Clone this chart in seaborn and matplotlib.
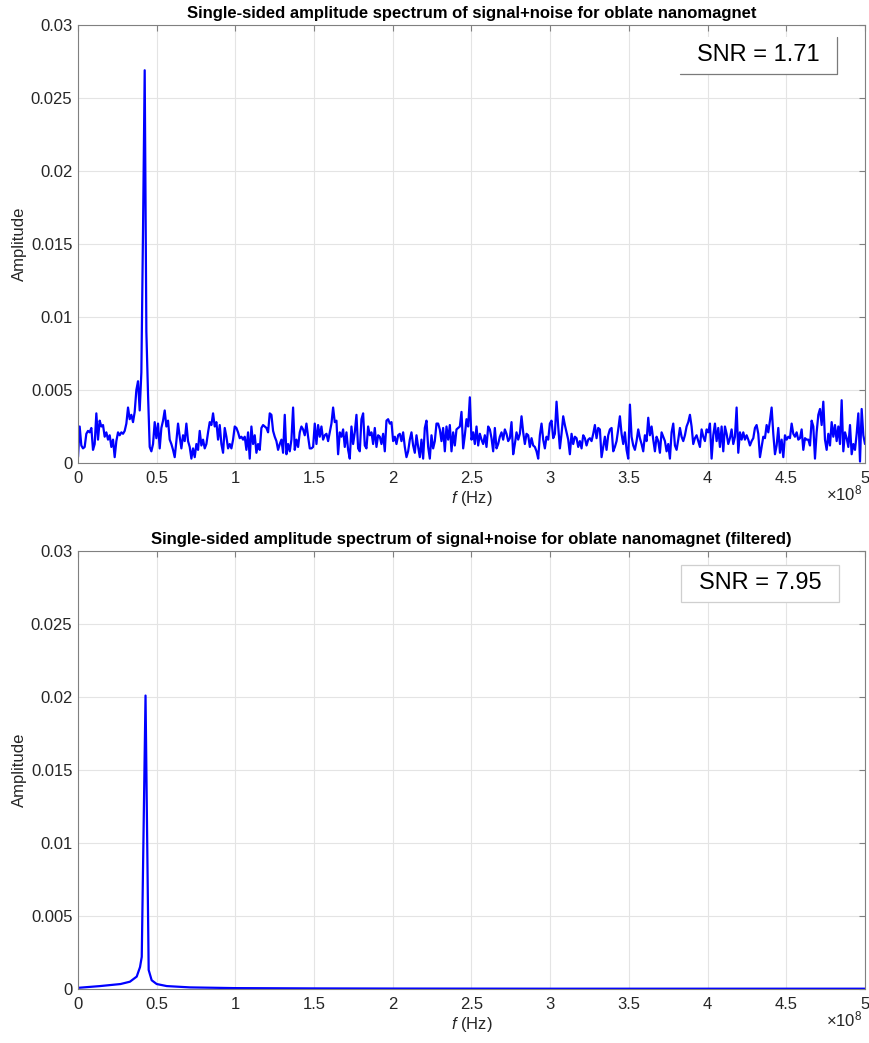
import numpy as np
import matplotlib
matplotlib.use("Agg")
import matplotlib.pyplot as plt
from matplotlib.patches import Rectangle
from matplotlib.lines import Line2D
import seaborn as sns

# ---------------------------------------------------------------
# Data
# ---------------------------------------------------------------
# Raw spectrum (signal + noise), amplitude in units of 1e-3,
# sampled on a uniform grid from 0 to 5e8 Hz (473 bins).
raw_amp_part1 = [
    0.4, 2.5, 1.2, 1.0, 1.1, 2.0, 2.2, 2.1, 2.4, 0.9,
    1.3, 3.4, 1.6, 2.9, 2.5, 2.6, 1.8, 2.1, 1.6, 1.9,
    1.1, 1.6, 0.4, 1.5, 2.1, 1.9, 2.1, 2.0, 2.2, 2.7,
    3.8, 3.0, 3.3, 2.8, 3.5, 5.0, 5.6, 3.6, 6.2, 16.0,
    26.9, 9.0, 4.7, 1.1, 0.8, 1.3, 2.8, 1.7, 2.7, 1.0,
    2.4, 2.9, 3.6, 2.5, 2.9, 1.6, 1.3, 0.9, 0.4, 1.5,
    2.7, 1.8, 1.0, 1.9, 1.5, 2.7, 1.5, 1.1, 0.3, 1.0,
    0.4, 1.3, 0.9, 2.2, 1.2, 1.6, 1.0, 1.3, 2.1, 2.8,
    2.6, 3.4, 2.5, 2.8, 1.6, 2.6, 1.3, 0.7, 2.4, 1.8,
    1.0, 1.3, 1.0, 1.6, 2.5, 2.4, 2.1, 1.7, 1.8, 1.6,
    1.8, 0.9, 2.1, 0.3, 2.5, 1.3, 1.9, 0.7, 1.3, 0.9,
    2.4, 2.6, 2.5, 2.4, 2.1, 3.4, 3.3, 2.2, 1.8, 1.5,
    0.9, 1.3,
]
raw_amp_part2 = [
    1.6, 0.7, 3.3, 0.6, 1.3, 0.8, 1.6, 3.8, 0.9, 1.6,
    1.1, 2.1, 2.5, 2.3, 1.9, 2.7, 1.8, 1.0, 1.0, 1.1,
    2.7, 1.3, 2.6, 1.8, 2.5, 1.6, 1.9, 2.0, 1.5, 2.1,
    2.7, 3.8, 2.8, 2.9, 0.6, 2.1, 1.8, 2.3, 1.1, 2.1,
    0.9, 0.3, 2.5, 1.3, 2.1, 3.3, 1.0, 0.8, 3.0, 3.4,
    1.2, 1.0, 2.5, 1.9, 2.1, 1.3, 2.4, 1.1, 1.9, 1.8,
    1.3, 2.0, 0.8, 2.9, 3.0, 2.7, 2.8, 1.5, 1.8, 1.3,
    1.9, 2.0, 1.5, 2.1, 1.1, 0.4, 0.8, 1.6, 2.1, 1.2,
    0.7, 1.9, 1.1, 0.4, 1.6, 0.3, 2.4, 2.9, 1.1, 0.3,
    1.9, 1.0, 1.5, 2.7, 2.7, 2.3, 1.5, 2.4, 0.8, 2.5,
    1.6, 2.6, 0.8, 2.1, 1.2, 2.3, 2.4, 2.5, 3.5, 1.0,
    1.9, 3.0, 2.5, 4.5, 1.6, 2.1, 1.3, 2.5, 1.2, 2.0,
    1.6, 1.3, 1.9, 1.1, 2.5, 2.3,
]
raw_amp_part3 = [
    1.7, 0.8, 2.4, 1.0, 1.3, 1.8, 2.1, 1.6, 2.3, 2.0,
    1.5, 1.7, 2.8, 0.6, 1.3, 2.1, 1.6, 2.0, 3.2, 2.1,
    1.3, 2.0, 1.9, 1.1, 1.7, 1.2, 1.1, 0.8, 0.3, 1.9,
    2.7, 1.6, 1.0, 1.8, 1.6, 2.7, 2.9, 1.7, 2.0, 4.2,
    2.5, 1.0, 2.0, 3.2, 2.6, 2.1, 1.6, 0.6, 2.0, 1.3,
    1.8, 1.7, 1.1, 1.5, 1.0, 1.9, 1.7, 1.2, 1.6, 1.7,
    1.5, 2.0, 2.6, 1.7, 2.4, 2.3, 0.4, 1.1, 1.8, 0.9,
    1.9, 2.3, 2.4, 0.8, 1.1, 1.5, 2.3, 3.2, 2.0, 1.3,
    2.1, 0.9, 0.3, 4.0, 1.8, 1.2, 0.9, 1.5, 2.3, 1.7,
    1.3, 0.8, 1.9, 1.5, 3.1, 1.9, 2.5, 1.6, 0.8, 1.8,
    1.5, 0.7, 2.1, 1.8, 1.5, 0.8, 1.3, 0.3, 2.1, 2.7,
    1.2, 0.9, 1.6, 2.4, 1.8, 1.5, 1.9, 2.5, 2.8, 3.3,
    2.5, 1.3, 1.7, 1.9, 1.5, 1.1,
]
raw_amp_part4 = [
    2.3, 1.8, 1.5, 2.3, 2.1, 2.7, 0.3, 1.9, 2.7, 1.5,
    2.4, 1.1, 2.5, 0.8, 2.5, 2.0, 1.3, 1.7, 2.3, 1.3,
    1.8, 3.8, 0.7, 2.1, 1.6, 2.1, 1.6, 1.9, 1.6, 1.2,
    1.5, 1.7, 2.4, 2.6, 2.0, 0.4, 1.1, 1.8, 1.7, 2.6,
    2.1, 2.9, 3.8, 2.0, 0.6, 1.2, 2.4, 0.7, 1.6, 0.4,
    1.9, 1.6, 1.8, 1.7, 2.7, 2.0, 1.8, 2.1, 1.6, 1.7,
    2.3, 0.9, 1.7, 1.6, 1.6, 1.2, 2.9, 2.5, 0.3, 2.1,
    3.3, 3.7, 2.6, 4.2, 1.6, 0.9, 2.0, 1.2, 2.8, 1.8,
    2.6, 1.5, 2.5, 1.3, 4.3, 0.8, 2.1, 1.7, 1.1, 2.6,
    0.6, 1.3, 0.9, 2.0, 3.4, 0.1, 3.7, 1.9, 1.3,
]

# Filtered spectrum: frequency (units of 1e8 Hz) and amplitude (units of 1e-3)
filt_freq_e8 = [0.0, 0.14, 0.27, 0.33, 0.373, 0.394, 0.405, 0.429, 0.449,
                0.468, 0.50, 0.564, 0.712, 1.0, 1.5, 2.0, 3.0, 4.0, 5.0]
filt_amp_milli = [0.08, 0.20, 0.34, 0.50, 0.85, 1.5, 2.2, 20.1, 1.3,
                  0.6, 0.34, 0.20, 0.11, 0.06, 0.04, 0.03, 0.02, 0.02, 0.02]

snr_values = [1.71, 7.95]
titles = [
    "Single-sided amplitude spectrum of signal+noise for oblate nanomagnet",
    "Single-sided amplitude spectrum of signal+noise for oblate nanomagnet (filtered)",
]
x_tick_values = [0, 0.5, 1, 1.5, 2, 2.5, 3, 3.5, 4, 4.5, 5]
x_tick_labels = ["0", "0.5", "1", "1.5", "2", "2.5", "3", "3.5", "4", "4.5", "5"]
y_tick_values = [0, 0.005, 0.01, 0.015, 0.02, 0.025, 0.03]
y_tick_labels = ["0", "0.005", "0.01", "0.015", "0.02", "0.025", "0.03"]

# ---------------------------------------------------------------
# Prepare arrays
# ---------------------------------------------------------------
raw_amp = np.array(raw_amp_part1 + raw_amp_part2 + raw_amp_part3 + raw_amp_part4) * 1e-3
raw_freq = np.linspace(0, 5e8, len(raw_amp))
filt_freq = np.array(filt_freq_e8) * 1e8
filt_amp = np.array(filt_amp_milli) * 1e-3

# ---------------------------------------------------------------
# Style
# ---------------------------------------------------------------
sns.set_theme(style="white")
plt.rcParams["font.family"] = ["Liberation Sans", "DejaVu Sans"]
plt.rcParams["mathtext.fontset"] = "custom"
plt.rcParams["mathtext.rm"] = "Liberation Sans"
plt.rcParams["mathtext.it"] = "Liberation Sans:italic"
plt.rcParams["mathtext.bf"] = "Liberation Sans:bold"

W, H = 870, 1043
fig = plt.figure(figsize=(W / 100, H / 100), dpi=100)
fig.patch.set_facecolor("white")

def px_axes(left, top, right, bottom):
    return fig.add_axes([left / W, 1 - bottom / H, (right - left) / W, (bottom - top) / H])

ax_top = px_axes(78, 25, 865, 463)
ax_bot = px_axes(78, 551, 865, 989)

spine_col = "#808080"
text_col = "#262626"

def style_axes(ax, title):
    ax.set_xlim(0, 5e8)
    ax.set_ylim(0, 0.03)
    ax.set_xticks(np.array(x_tick_values) * 1e8)
    ax.set_xticklabels(x_tick_labels)
    ax.set_yticks(y_tick_values)
    ax.set_yticklabels(y_tick_labels)
    ax.grid(True, color="#e4e4e4", linewidth=0.8)
    ax.set_axisbelow(True)
    ax.tick_params(axis="both", direction="in", length=4, width=0.8,
                   colors=spine_col, labelcolor=text_col, labelsize=12,
                   top=True, right=True)
    ax.tick_params(axis="x", pad=6)
    ax.tick_params(axis="y", pad=4)
    for s in ax.spines.values():
        s.set_visible(True)
        s.set_color(spine_col)
        s.set_linewidth(0.8)
    ax.set_xlabel("$f$ (Hz)", fontsize=12, color=text_col, labelpad=2)
    ax.set_ylabel("Amplitude", fontsize=12, color=text_col, labelpad=3)
    ax.set_title(title, fontsize=12, fontweight="bold", color="black", pad=5)
    # exponent of the frequency axis, below the right end of the tick labels
    ax.text(0.997, -0.047, r"$\times10^{8}$", transform=ax.transAxes,
            ha="right", va="top", fontsize=12, color=text_col)

# Raw spectrum
sns.lineplot(x=raw_freq, y=raw_amp, ax=ax_top, color="#0000ff",
             linewidth=1.6, estimator=None, sort=False)
# Filtered spectrum
sns.lineplot(x=filt_freq, y=filt_amp, ax=ax_bot, color="#0000ff",
             linewidth=1.6, estimator=None, sort=False)

for ax in (ax_top, ax_bot):
    for ln in ax.lines:
        ln.set_solid_joinstyle("round")
        ln.set_clip_on(True)

style_axes(ax_top, titles[0])
style_axes(ax_bot, titles[1])

# SNR annotation boxes
def snr_box(ax, value, x0, y0, x1, y1, full_edge):
    ax.add_patch(Rectangle((x0, y0), x1 - x0, y1 - y0, transform=ax.transAxes,
                           facecolor="white",
                           edgecolor="#cfcfcf" if full_edge else "none",
                           linewidth=0.9, zorder=5))
    if not full_edge:
        ax.add_line(Line2D([x0, x1, x1], [y0, y0, y1], transform=ax.transAxes,
                           color="#7a7a7a", linewidth=0.9, zorder=6))
    ax.text((x0 + x1) / 2, (y0 + y1) / 2, f"SNR = {value:.2f}",
            transform=ax.transAxes, ha="center", va="center",
            fontsize=17, color="black", zorder=7)

snr_box(ax_top, snr_values[0], 0.765, 0.888, 0.964, 0.973, full_edge=False)
snr_box(ax_bot, snr_values[1], 0.766, 0.884, 0.967, 0.968, full_edge=True)

fig.savefig("out.png", dpi=100, facecolor="white")
